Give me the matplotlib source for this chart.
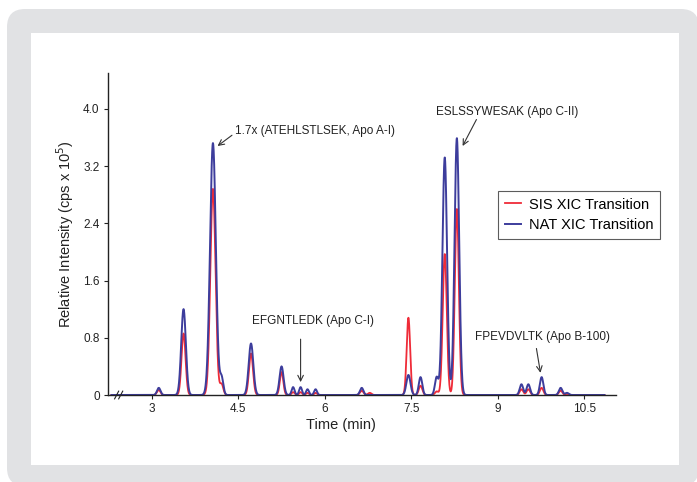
import numpy as np
import matplotlib.pyplot as plt
from matplotlib.patches import FancyBboxPatch, Rectangle

plt.rcParams['font.family'] = ['Liberation Sans', 'DejaVu Sans']

# peak apex positions (min) and heights (cps x 10^5)
sis_rt = [3.12, 3.55, 4.06, 4.21, 4.72, 5.25, 5.45, 5.58, 5.70, 5.84, 6.64, 6.78,
          7.45, 7.66, 7.94, 8.08, 8.29, 9.41, 9.53, 9.76, 10.09]
sis_int = [0.07, 0.86, 2.88, 0.15, 0.58, 0.32, 0.04, 0.04, 0.03, 0.03, 0.06, 0.03,
           1.08, 0.13, 0.05, 1.97, 2.60, 0.08, 0.08, 0.10, 0.06]
sis_w = [0.03, 0.035, 0.045, 0.03, 0.035, 0.03, 0.025, 0.025, 0.025, 0.025, 0.03, 0.03,
         0.03, 0.03, 0.03, 0.035, 0.035, 0.03, 0.03, 0.03, 0.03]

nat_rt = [3.12, 3.55, 4.06, 4.21, 4.72, 5.25, 5.45, 5.58, 5.70, 5.84, 6.64,
          7.45, 7.66, 7.94, 8.08, 8.29, 9.41, 9.53, 9.76, 10.09, 10.2]
nat_int = [0.10, 1.20, 3.52, 0.24, 0.72, 0.40, 0.11, 0.11, 0.08, 0.08, 0.10,
           0.28, 0.25, 0.25, 3.32, 3.59, 0.15, 0.15, 0.25, 0.10, 0.03]
nat_w = [0.03, 0.04, 0.05, 0.03, 0.04, 0.035, 0.025, 0.025, 0.025, 0.025, 0.03,
         0.035, 0.03, 0.03, 0.04, 0.04, 0.03, 0.03, 0.03, 0.03, 0.03]

yticks = [0, 0.8, 1.6, 2.4, 3.2, 4.0]
ytick_labels = ['0', '0.8', '1.6', '2.4', '3.2', '4.0']
xticks = [3, 4.5, 6, 7.5, 9, 10.5]
xtick_labels = ['3', '4.5', '6', '7.5', '9', '10.5']


def trace(t, rts, ints, ws):
    y = np.zeros_like(t)
    for r, h, w in zip(rts, ints, ws):
        y += h * np.exp(-0.5 * ((t - r) / w) ** 2)
    return y


W, H = 697, 482
fig = plt.figure(figsize=(W / 100, H / 100), dpi=100)
fig.patch.set_facecolor('white')

# gray rounded frame with white panel
fig.patches.append(FancyBboxPatch((7 / W, 1 - 486 / H), 692 / W, 477 / H,
                                  boxstyle='round,pad=0,rounding_size=0.026',
                                  transform=fig.transFigure, fc='#e1e2e4', ec='none',
                                  mutation_aspect=W / H, zorder=-20))
fig.patches.append(Rectangle((31 / W, 1 - 465 / H), 648 / W, 432 / H,
                             transform=fig.transFigure, fc='white', ec='none',
                             zorder=-10))

ax = fig.add_axes([108 / W, 1 - 395 / H, 508 / W, 322 / H])
ax.set_facecolor('none')

t = np.linspace(2.3, 10.85, 4000)
ax.plot(t, trace(t, sis_rt, sis_int, sis_w), color='#ef2b38', lw=1.3,
        label='SIS XIC Transition')
ax.plot(t, trace(t, nat_rt, nat_int, nat_w), color='#3d3d9c', lw=1.4,
        label='NAT XIC Transition')

ax.set_xlim(2.24, 11.05)
ax.set_ylim(0, 4.5)
ax.set_xticks(xticks, xtick_labels)
ax.set_yticks(yticks, ytick_labels)
ax.tick_params(labelsize=8.5, length=3, width=0.8, colors='#222222', pad=3)
for s in ['top', 'right']:
    ax.spines[s].set_visible(False)
for s in ['left', 'bottom']:
    ax.spines[s].set_linewidth(1.0)
    ax.spines[s].set_color('#222222')

ax.set_xlabel('Time (min)', fontsize=10.5, color='#222222')
ax.xaxis.set_label_coords(0.459, -0.07)
ax.set_ylabel('Relative Intensity (cps x 10$^5$)', fontsize=10.5, color='#222222')
ax.yaxis.set_label_coords(-0.063, 0.5)

# axis break mark
for dx in (0.0, 0.008):
    ax.plot([0.013 + dx, 0.021 + dx], [-0.012, 0.012], transform=ax.transAxes,
            color='#222222', lw=0.8, clip_on=False)

arrow = dict(arrowstyle='->', color='#333333', lw=0.8, shrinkA=0, shrinkB=0)
ax.annotate('1.7x (ATEHLSTLSEK, Apo A-I)', xy=(4.44, 3.69), fontsize=8.5,
            va='center', ha='left', color='#222222')
ax.annotate('', xy=(nat_rt[2] + 0.08, nat_int[2] - 0.04), xytext=(4.39, 3.63),
            arrowprops=arrow)
ax.annotate('EFGNTLEDK (Apo C-I)', xy=(4.73, 1.04), fontsize=8.5, va='center',
            ha='left', color='#222222')
ax.annotate('', xy=(nat_rt[7], nat_int[7] + 0.07), xytext=(nat_rt[7], 0.78),
            arrowprops=arrow)
ax.annotate('ESLSSYWESAK (Apo C-II)', xy=(7.92, 3.95), fontsize=8.5, va='center',
            ha='left', color='#222222')
ax.annotate('', xy=(nat_rt[15] + 0.1, nat_int[15] - 0.11), xytext=(8.63, 3.85),
            arrowprops=arrow)
ax.annotate('FPEVDVLTK (Apo B-100)', xy=(8.6, 0.81), fontsize=8.5, va='center',
            ha='left', color='#222222')
ax.annotate('', xy=(nat_rt[18] - 0.02, nat_int[18] + 0.06), xytext=(9.67, 0.65),
            arrowprops=arrow)

leg = ax.legend(loc='upper left', bbox_to_anchor=(498 / W, 1 - 191 / H),
                bbox_transform=fig.transFigure, fontsize=10.5, frameon=True,
                fancybox=False, handlelength=1.1, handletextpad=0.6,
                borderpad=0.45, labelspacing=0.45, borderaxespad=0)
leg.get_frame().set_edgecolor('#333333')
leg.get_frame().set_linewidth(0.8)

fig.savefig('out.png', dpi=100)
